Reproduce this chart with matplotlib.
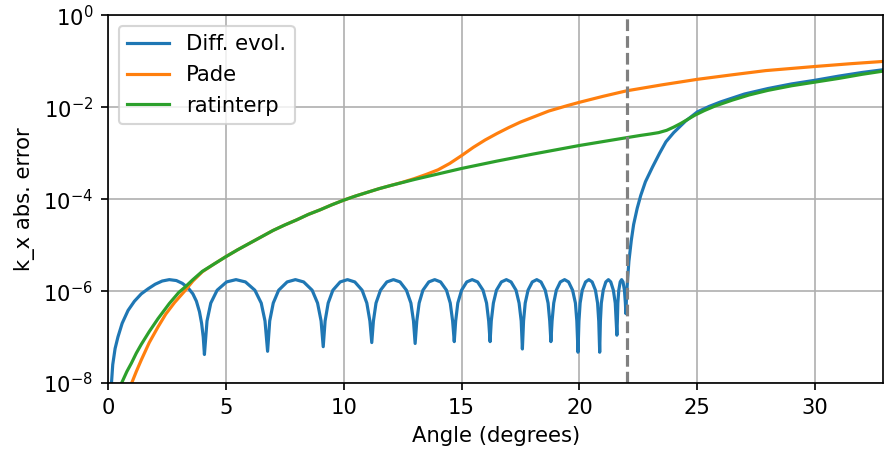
import numpy as np
import matplotlib
matplotlib.use("Agg")
import matplotlib.pyplot as plt

# Diff. evol. curve (angle in degrees, log10 of abs. error)
de_angle = [0.14, 0.2, 0.3, 0.42, 0.6, 0.85, 1.12, 1.41, 1.7, 2.0, 2.3, 2.6, 2.9, 3.15, 3.4, 3.6, 3.75, 3.88, 3.97, 4.04, 4.09,
            4.20, 4.36, 4.63, 5.03, 5.43, 5.83, 6.23, 6.50, 6.66, 6.77,
            6.86, 7.01, 7.24, 7.60, 7.95, 8.30, 8.66, 8.89, 9.04, 9.13,
            9.21, 9.34, 9.54, 9.85, 10.16, 10.47, 10.78, 10.98, 11.11, 11.19,
            11.26, 11.37, 11.56, 11.83, 12.11, 12.39, 12.66, 12.85, 12.96, 13.03,
            13.10, 13.20, 13.36, 13.61, 13.86, 14.11, 14.36, 14.52, 14.62, 14.69,
            14.75, 14.84, 15.00, 15.22, 15.45, 15.68, 15.91, 16.06, 16.15, 16.21,
            16.26, 16.35, 16.48, 16.69, 16.90, 17.10, 17.31, 17.44, 17.53, 17.58,
            17.63, 17.70, 17.82, 18.00, 18.19, 18.37, 18.55, 18.67, 18.74, 18.79,
            18.84, 18.91, 19.02, 19.19, 19.37, 19.54, 19.71, 19.83, 19.89, 19.94,
            19.98, 20.03, 20.12, 20.26, 20.40, 20.54, 20.68, 20.77, 20.82, 20.86,
            20.89, 20.93, 21.01, 21.12, 21.23, 21.33, 21.44, 21.52, 21.56, 21.59,
            21.61, 21.63, 21.67, 21.73, 21.79, 21.85, 21.91, 21.95, 21.97,
            22.0, 22.05, 22.1, 22.2, 22.3, 22.45, 22.6, 22.8, 23.1, 23.4, 23.67, 24.0, 24.5, 25.0, 25.5,
            26.0, 27.0, 28.0, 29.0, 30.0, 31.0, 32.0, 32.9]
de_log = [-8.05, -7.6, -7.25, -7.0, -6.7, -6.42, -6.22, -6.06, -5.95, -5.85, -5.78, -5.75, -5.77, -5.83, -5.93, -6.06, -6.22, -6.45, -6.7, -7.0, -7.38,
          -6.65, -6.26, -5.98, -5.80, -5.75, -5.80, -5.98, -6.26, -6.65, -7.31,
          -6.65, -6.26, -5.98, -5.80, -5.75, -5.80, -5.98, -6.26, -6.65, -7.21,
          -6.65, -6.26, -5.98, -5.80, -5.75, -5.80, -5.98, -6.26, -6.65, -7.12,
          -6.65, -6.26, -5.98, -5.80, -5.75, -5.80, -5.98, -6.26, -6.65, -7.14,
          -6.65, -6.26, -5.98, -5.80, -5.75, -5.80, -5.98, -6.26, -6.65, -7.10,
          -6.65, -6.26, -5.98, -5.80, -5.75, -5.80, -5.98, -6.26, -6.65, -7.10,
          -6.65, -6.26, -5.98, -5.80, -5.75, -5.80, -5.98, -6.26, -6.65, -7.26,
          -6.65, -6.26, -5.98, -5.80, -5.75, -5.80, -5.98, -6.26, -6.65, -7.10,
          -6.65, -6.26, -5.98, -5.80, -5.75, -5.80, -5.98, -6.26, -6.65, -7.33,
          -6.65, -6.26, -5.98, -5.80, -5.75, -5.80, -5.98, -6.26, -6.65, -7.33,
          -6.65, -6.26, -5.98, -5.80, -5.75, -5.80, -5.98, -6.26, -6.65, -6.96,
          -6.65, -6.26, -5.98, -5.80, -5.75, -5.80, -5.98, -6.26, -6.49,
          -6.1, -5.7, -5.35, -4.9, -4.55, -4.2, -3.92, -3.62, -3.3, -3.0, -2.75, -2.55, -2.3, -2.1, -1.98,
          -1.88, -1.71, -1.59, -1.49, -1.41, -1.32, -1.24, -1.18]

# Pade curve
pade_angle = [0.99, 1.2, 1.41, 1.75, 2.12, 2.45, 2.82, 3.25, 3.6, 4.0, 4.5, 5.0, 5.5, 6.0, 6.5, 7.0, 7.5, 8.0,
              8.5, 9.0, 9.5, 10.0, 10.5, 11.0, 11.5, 12.0, 12.5, 13.0, 13.5, 14.0, 14.5, 15.0, 15.5, 16.0,
              16.5, 17.0, 17.5, 18.0, 18.7, 19.5, 20.0, 21.0, 22.0, 23.5, 25.0, 26.5, 27.9, 30.0, 31.5, 32.9]
pade_log = [-8.02, -7.75, -7.5, -7.12, -6.78, -6.5, -6.25, -6.0, -5.78, -5.58, -5.41, -5.25, -5.1, -4.96, -4.82, -4.68, -4.56, -4.45,
            -4.33, -4.23, -4.12, -4.02, -3.93, -3.85, -3.77, -3.70, -3.63, -3.55, -3.46, -3.36, -3.22, -3.05, -2.87, -2.71,
            -2.57, -2.44, -2.32, -2.22, -2.08, -1.96, -1.89, -1.76, -1.64, -1.51, -1.39, -1.29, -1.20, -1.11, -1.05, -1.0]

# ratinterp curve
rat_angle = [0.56, 0.8, 0.99, 1.2, 1.41, 1.75, 2.12, 2.6, 3.0, 3.25, 3.6, 4.0, 4.5, 5.0, 5.5, 6.0, 6.5, 7.0, 7.5, 8.0,
             8.5, 9.0, 9.5, 10.0, 10.5, 11.0, 11.5, 12.0, 13.0, 14.0, 15.0, 16.5, 18.0, 20.0, 22.0, 22.6, 23.0,
             23.36, 23.7, 24.0, 24.3, 24.6, 24.9, 25.3, 25.76, 26.5, 27.2, 28.0, 29.0, 30.0, 31.0, 32.0, 32.9]
rat_log = [-8.02, -7.75, -7.57, -7.35, -7.16, -6.88, -6.6, -6.27, -6.03, -5.92, -5.75, -5.57, -5.41, -5.25, -5.1, -4.96, -4.82, -4.68, -4.56, -4.45,
           -4.33, -4.23, -4.12, -4.02, -3.93, -3.85, -3.77, -3.70, -3.57, -3.45, -3.33, -3.17, -3.02, -2.83, -2.66, -2.61, -2.58,
           -2.55, -2.5, -2.43, -2.35, -2.26, -2.17, -2.07, -1.97, -1.84, -1.73, -1.63, -1.53, -1.45, -1.37, -1.28, -1.21]

cutoff_angle = 22.0

fig = plt.figure(figsize=(884 / 152, 454 / 152), dpi=152)
ax = fig.add_axes([0.1222, 0.1564, 0.8772, 0.8095])

ax.plot(de_angle, 10 ** np.array(de_log), label="Diff. evol.")
ax.plot(pade_angle, 10 ** np.array(pade_log), label="Pade")
ax.plot(rat_angle, 10 ** np.array(rat_log), label="ratinterp")
ax.axvline(cutoff_angle, color="gray", linestyle="--")

ax.set_yscale("log")
ax.set_ylim(1e-8, 1)
ax.set_xlim(0, 32.9)
ax.set_yticks([1e-8, 1e-6, 1e-4, 1e-2, 1])
ax.minorticks_off()
ax.grid(True)
ax.set_xlabel("Angle (degrees)")
ax.set_ylabel("k_x abs. error")
ax.legend(loc="upper left")

fig.savefig("out.png", dpi=152)
